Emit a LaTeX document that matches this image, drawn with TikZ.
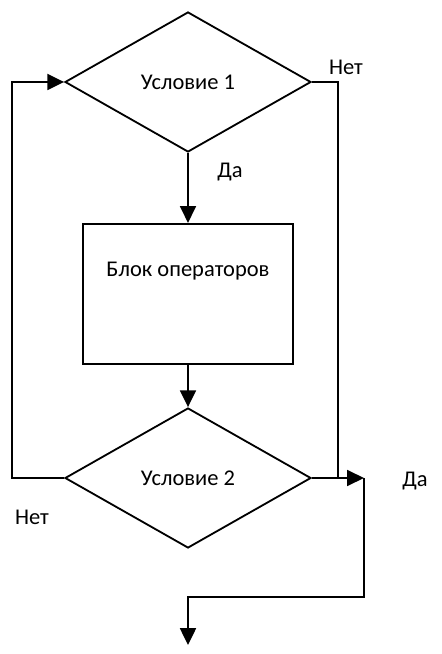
\documentclass[tikz,border=0pt]{standalone}
\usepackage{fontspec}
\setmainfont{Carlito}
\usetikzlibrary{positioning, shapes.geometric, calc, arrows.meta}

\begin{document}
\begin{tikzpicture}[
            >={Triangle[length=0.42cm, width=0.4cm]},
            line width=1.3pt,
            font=\fontsize{16}{19}\selectfont,
            % Styles
            cond/.style={diamond, draw, inner sep=0pt,
              minimum width=6.15cm, minimum height=3.5cm},
            opsbox/.style={rectangle, draw, minimum width=5.25cm, minimum height=3.5cm}
          ]
          \useasboundingbox (0,0) rectangle (11.025,-16.35);
          % 1. Blocks
          \node[cond] (cond1) at (4.7,-2.05) {Условие 1};
          \node[opsbox, below=1.75cm of cond1,
            label={[anchor=center, yshift=-1.2cm]north:Блок операторов}] (ops) {};
          \node[cond] (cond2) at (4.7,-11.95) {Условие 2};
          % 2. Turning points
          \coordinate (loopl) at (0.3,-2.05);
          \coordinate (joinr) at ($(cond2.east)+(0.66,0)$);
          \coordinate (exitr) at ($(cond2.east)+(1.3,0)$);
          \coordinate (bendb) at (4.7,-14.925);
          \coordinate (fin) at (4.7,-16.125);
          % 3. Labels
          \node (no1) at (8.65,-1.675) {Нет};
          \node (yes1) at (5.75,-4.3) {Да};
          \node (yes2) at (10.375,-12.025) {Да};
          \node (no2) at (0.8,-12.925) {Нет};
          % --- Connections ---
          \draw[->] (cond1.south) -- (ops.north);
          \draw[->] (ops.south) -- (cond2.north);
          \draw[->] (cond2.west) -| (loopl) -- (cond1.west);
          \draw (cond1.east) -| (joinr);
          \draw[->] (cond2.east) -- (exitr);
          \draw[->] (exitr) |- (bendb) -- (fin);
\end{tikzpicture}
\end{document}
